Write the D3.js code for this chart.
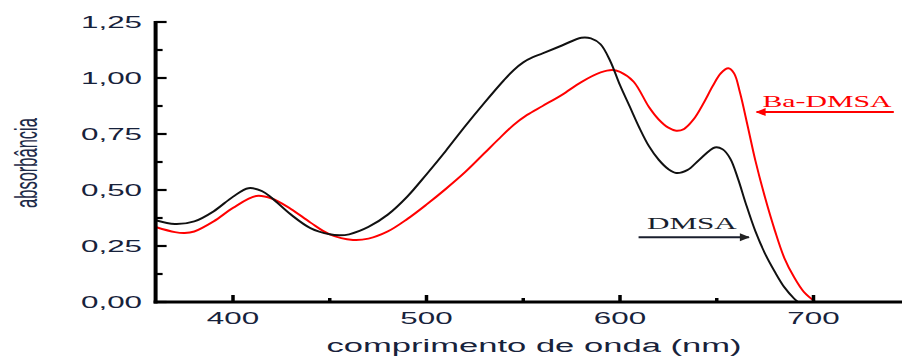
<!DOCTYPE html>
<html>
<head>
<meta charset="utf-8">
<script src="https://cdn.jsdelivr.net/npm/d3@7"></script>
<style>
  body { margin: 0; background: #fff; }
  svg { display: block; }
</style>
</head>
<body>
<div id="chart"></div>
<script>
// absorbance spectra, DMSA vs Ba-DMSA

const dmsaNm =
[360, 370, 380, 390, 400, 408, 415, 420, 430, 440, 450, 455, 460, 470, 480, 490,
 500, 510, 520, 530, 540, 545, 550, 555, 560, 570, 580, 585, 590, 595, 600, 605,
 610, 615, 620, 625, 629, 635, 641, 649, 653, 657, 661, 665, 670, 675, 680, 685,
 690, 692];
const dmsaAbs =
[0.365, 0.348, 0.36, 0.405, 0.47, 0.508, 0.495, 0.465, 0.39, 0.33, 0.302, 0.298, 0.302, 0.335, 0.39, 0.47,
 0.57, 0.675, 0.785, 0.89, 0.99, 1.035, 1.07, 1.093, 1.11, 1.145, 1.18, 1.177, 1.15, 1.075, 0.968, 0.873,
 0.778, 0.695, 0.635, 0.593, 0.576, 0.59, 0.635, 0.69, 0.682, 0.64, 0.55, 0.44, 0.315, 0.215, 0.135, 0.065,
 0.015, 0.0];

const baNm =
[360, 370, 375, 380, 390, 400, 412, 420, 430, 440, 450, 462, 470, 480, 490, 500,
 510, 520, 530, 537, 545, 552, 560, 570, 580, 590, 596, 600, 607, 615, 620, 625,
 629, 633, 638, 643, 648, 652, 656, 659, 662, 666, 670, 675, 680, 685, 690, 695,
 701];
const baAbs =
[0.335, 0.312, 0.308, 0.315, 0.36, 0.42, 0.473, 0.462, 0.415, 0.355, 0.302, 0.277, 0.283, 0.315, 0.37, 0.435,
 0.505, 0.58, 0.665, 0.725, 0.79, 0.835, 0.875, 0.925, 0.982, 1.025, 1.036, 1.027, 0.984, 0.87, 0.815, 0.778,
 0.765, 0.772, 0.815, 0.885, 0.965, 1.02, 1.043, 1.02, 0.935, 0.785, 0.63, 0.465, 0.32, 0.195, 0.11, 0.045,
 0.0];

const xMajor = [400, 500, 600, 700];
const xMinor = [450, 550, 650];
const yMajor = [0, 0.25, 0.5, 0.75, 1.0, 1.25];
const yMinor = [0.125, 0.375, 0.625, 0.875, 1.125];

const xTitle = "comprimento de onda (nm)";
const yTitle = "absorbância";

// labels with arrows: [text, text start nm, text abs, arrow tail nm, arrow tip nm, arrow abs]
const labelBa = ["Ba-DMSA", 673.6, 0.872, 741.5, 670.6, 0.848];
const labelDmsa = ["DMSA", 613.9, 0.328, 609.6, 666.6, 0.289];

const W = 902, H = 358;
const stretch = 1.9; // the figure is widened, text too

const svg = d3.select("#chart").
append("svg").
attr("width", W).
attr("height", H);

let xScale = d3.scaleLinear().
domain([360, 750]).
range([155.6, 155.6 + 1.935 * 390]);

let yScale = d3.scaleLinear().
domain([0, 1.25]).
range([302, 22]);

let fmt = d => d3.format(".2f")(d).replace(".", ",");

// arrowheads
let defs = svg.append("defs");
[["arrRed", "#ff0000"], ["arrBlack", "#222"]].forEach(([id, c]) => {
    defs.append("marker").
    attr("id", id).
    attr("viewBox", "0 0 10 10").
    attr("refX", 9).
    attr("refY", 5).
    attr("markerUnits", "userSpaceOnUse").
    attr("markerWidth", 16).
    attr("markerHeight", 10).
    attr("orient", "auto").
    append("path").
    attr("d", "M0,1 L10,5 L0,9 Z").
    attr("fill", c);
});

// curves
let line = d3.line().
x(d => xScale(d[0])).
y(d => yScale(d[1])).
curve(d3.curveCatmullRom.alpha(0.5));

svg.append("path").
datum(d3.zip(baNm, baAbs)).
attr("d", line).
attr("fill", "none").
attr("stroke", "#ff0000").
attr("stroke-width", 2);

svg.append("path").
datum(d3.zip(dmsaNm, dmsaAbs)).
attr("d", line).
attr("fill", "none").
attr("stroke", "#111").
attr("stroke-width", 2);

// axes (ticks point inward)
let gx = svg.append("g").
attr("transform", "translate(0," + yScale(0) + ")");
gx.append("line").
attr("x1", xScale(360) - 2).
attr("x2", W).
attr("stroke", "#000").
attr("stroke-width", 3);
gx.selectAll(".xmaj").
data(xMajor).
enter().
append("line").
attr("x1", d => xScale(d)).
attr("x2", d => xScale(d)).
attr("y1", 0).
attr("y2", -7).
attr("stroke", "#000").
attr("stroke-width", 3.5);
gx.selectAll(".xmin").
data(xMinor).
enter().
append("line").
attr("x1", d => xScale(d)).
attr("x2", d => xScale(d)).
attr("y1", 0).
attr("y2", -4).
attr("stroke", "#000").
attr("stroke-width", 3.5);

let gy = svg.append("g").
attr("transform", "translate(" + xScale(360) + ",0)");
gy.append("line").
attr("y1", yScale(1.25) - 1).
attr("y2", yScale(0) + 1.5).
attr("stroke", "#000").
attr("stroke-width", 4);
gy.selectAll(".ymaj").
data(yMajor).
enter().
append("line").
attr("x1", 0).
attr("x2", 11).
attr("y1", d => yScale(d)).
attr("y2", d => yScale(d)).
attr("stroke", "#000").
attr("stroke-width", 2.2);
gy.selectAll(".ymin").
data(yMinor).
enter().
append("line").
attr("x1", 0).
attr("x2", 7).
attr("y1", d => yScale(d)).
attr("y2", d => yScale(d)).
attr("stroke", "#000").
attr("stroke-width", 2.2);

// tick labels
const labelColor = "#17223b";
svg.selectAll(".ylab").
data(yMajor).
enter().
append("text").
attr("transform", d => "translate(142," + yScale(d) + ") scale(" + stretch + ",1)").
attr("dy", "0.36em").
attr("text-anchor", "end").
attr("font-family", "Liberation Sans, Arial, sans-serif").
attr("font-size", 16.5).
attr("fill", labelColor).
text(fmt);

svg.selectAll(".xlab").
data(xMajor).
enter().
append("text").
attr("transform", d => "translate(" + xScale(d) + ",324) scale(" + stretch + ",1)").
attr("text-anchor", "middle").
attr("font-family", "Liberation Sans, Arial, sans-serif").
attr("font-size", 16.5).
attr("fill", labelColor).
text(d => d);

// axis titles
svg.append("text").
attr("transform", "translate(534,352) scale(" + stretch + ",1)").
attr("text-anchor", "middle").
attr("font-family", "Liberation Sans, Arial, sans-serif").
attr("font-size", 18.2).
attr("fill", labelColor).
text(xTitle);

svg.append("text").
attr("transform", "translate(37,163) scale(" + stretch + ",1) rotate(-90)").
attr("text-anchor", "middle").
attr("font-family", "Liberation Sans, Arial, sans-serif").
attr("font-size", 16.5).
attr("fill", "#1e2b48").
text(yTitle);

// annotations
function annotate(lab, color, marker, size) {
    svg.append("text").
    attr("transform", "translate(" + xScale(lab[1]) + "," + yScale(lab[2]) + ") scale(" + stretch + ",1)").
    attr("font-family", "Liberation Serif, Times New Roman, serif").
    attr("font-size", size).
    attr("fill", color).
    text(lab[0]);

    svg.append("line").
    attr("x1", xScale(lab[3])).
    attr("x2", xScale(lab[4])).
    attr("y1", yScale(lab[5])).
    attr("y2", yScale(lab[5])).
    attr("stroke", color).
    attr("stroke-width", 2).
    attr("marker-end", "url(#" + marker + ")");
}
annotate(labelBa, "#ff0000", "arrRed", 15.7);
annotate(labelDmsa, "#1a1f2e", "arrBlack", 16.4);
</script>
</body>
</html>
